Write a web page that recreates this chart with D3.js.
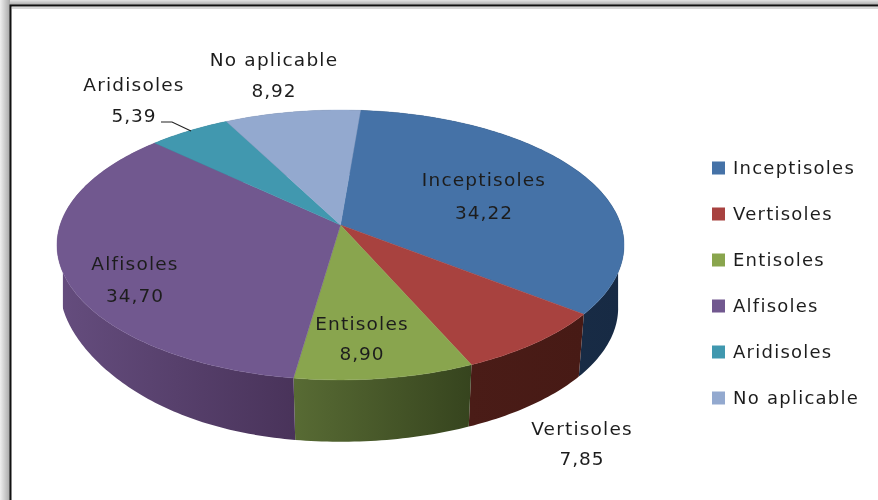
<!DOCTYPE html>
<html><head><meta charset="utf-8">
<script src="https://cdnjs.cloudflare.com/ajax/libs/d3/7.8.5/d3.min.js"></script>
<style>html,body{margin:0;padding:0;background:#fff;overflow:hidden}svg{display:block}
text{font-family:"DejaVu Sans",sans-serif;fill:#1e1e1e}</style></head><body>
<script>
const categories = ["Inceptisoles","Vertisoles","Entisoles","Alfisoles","Aridisoles","No aplicable"];
const values = [34.22,7.85,8.90,34.70,5.39,8.92];
const topColors = ["#4572a7","#a8423f","#89a54e","#71588f","#4198af","#93a9cf"];
const sideLeft = ["#1b3149","#4a1c17","#586b34","#654d7e","#2a6373","#606e87"];
const sideRight = ["#172a44","#471a15","#36441e","#49335a","#2a6373","#606e87"];
const labelX = [484,582,362,135,134,274];
const labelY = [180,429,324,264,85,60];

const W=878,H=500;
const svg=d3.select("body").append("svg").attr("width",W).attr("height",H);
const defs=svg.append("defs");
defs.append("filter").attr("id","soft").attr("x","-5%").attr("y","-20%").attr("width","110%").attr("height","140%")
  .append("feGaussianBlur").attr("stdDeviation",0.5);
defs.append("filter").attr("id","softer").append("feGaussianBlur").attr("stdDeviation",0.6);

// frame and shadow
const gl=defs.append("linearGradient").attr("id","shL");
gl.append("stop").attr("offset",0).attr("stop-color","#efefef");
gl.append("stop").attr("offset",1).attr("stop-color","#a8a8a8");
const gt=defs.append("linearGradient").attr("id","shT").attr("x2",0).attr("y2",1);
gt.append("stop").attr("offset",0).attr("stop-color","#e4e4e4");
gt.append("stop").attr("offset",1).attr("stop-color","#a8a8a8");
svg.append("rect").attr("width",W).attr("height",5).attr("fill","url(#shT)");
svg.append("rect").attr("y",0).attr("width",10).attr("height",H).attr("fill","url(#shL)");
svg.append("rect").attr("x",10.5).attr("y",5.5).attr("width",W).attr("height",H).attr("fill","#fff").attr("stroke","#111").attr("stroke-width",2);
svg.append("rect").attr("x",12).attr("y",7).attr("width",W).attr("height",2).attr("fill","#d8d8d8");

// perspective projection of the disc
const k=0.148;
const project=(a,p)=>{
  const u=Math.sin(a),v=-Math.cos(a),w=1-k*v;
  let x=p.cx+p.R*u/w; const y=p.cy+p.S*v/w;
  if(p.leftPull&&u<0) x+=p.leftPull*u*u*Math.max(0,(y-308)/134);
  if(p.leftPull&&y>245&&y<308) x=p.cx+Math.sign(u)*277.6;
  return [x,y];
};
const topDisc={cx:340.5,cy:225,R:280.4,S:132};
const botDisc={cx:340.5,cy:288,R:274.6,S:131,leftPull:38};
const start=4.7*Math.PI/180;
const pie=d3.pie().sort(null).value(d=>d).startAngle(start).endAngle(2*Math.PI+start);
const arcs=pie(values);
const color=d3.scaleOrdinal(categories,topColors);
const samples=(s,e)=>{const n=Math.max(2,Math.ceil((e-s)/(Math.PI/180)));return d3.range(n+1).map(i=>s+(e-s)*i/n);};
const line=d3.line();
const pie3d=svg.append("g");

// walls
arcs.forEach((d,i)=>{
  const as=samples(d.startAngle,d.endAngle);
  const t=as.map(a=>project(a,topDisc)), b=as.map(a=>project(a,botDisc)).reverse();
  const xs=t.map(p=>p[0]).concat(b.map(p=>p[0]));
  const g=defs.append("linearGradient").attr("id","wall"+i).attr("gradientUnits","userSpaceOnUse")
    .attr("x1",d3.min(xs)).attr("x2",d3.max(xs)).attr("y1",0).attr("y2",0);
  g.append("stop").attr("offset",0).attr("stop-color",sideLeft[i]);
  g.append("stop").attr("offset",1).attr("stop-color",sideRight[i]);
  pie3d.append("path").attr("d",line(t.concat(b))+"Z").attr("fill",`url(#wall${i})`);
});
// top surface
arcs.forEach((d,i)=>{
  const rim=samples(d.startAngle,d.endAngle).map(a=>project(a,topDisc));
  pie3d.append("path").attr("d",line([[topDisc.cx,topDisc.cy],...rim])+"Z")
    .attr("fill",color(categories[i])).attr("stroke",color(categories[i])).attr("stroke-width",0.4);
});

// leader line
svg.append("path").attr("d",line([[161,122],[172,122],[191,131]])).attr("fill","none").attr("stroke","#222").attr("stroke-width",1.1);

// labels
const fmt=d3.formatLocale({decimal:",",thousands:".",grouping:[3],currency:["","€"]}).format(".2f");
const labels=svg.append("g").attr("filter","url(#soft)").attr("font-size",18.5);
const gap=[33,30,30,32,31,31];
categories.forEach((c,i)=>{
  labels.append("text").attr("x",labelX[i]).attr("y",labelY[i]+6).attr("text-anchor","middle").attr("letter-spacing",1.2).text(c);
  labels.append("text").attr("x",labelX[i]).attr("y",labelY[i]+6+gap[i]).attr("text-anchor","middle").attr("letter-spacing",1).text(fmt(values[i]));
});

// legend
const legendY=d3.scalePoint(categories,[168,398]);
const legend=svg.append("g");
categories.forEach(c=>{
  legend.append("rect").attr("x",712).attr("y",legendY(c)-6.5).attr("width",13).attr("height",13).attr("fill",color(c)).attr("filter","url(#softer)");
  legend.append("text").attr("filter","url(#soft)").attr("x",733).attr("y",legendY(c)+6).attr("font-size",18).attr("letter-spacing",1.25).text(c);
});
</script></body></html>
